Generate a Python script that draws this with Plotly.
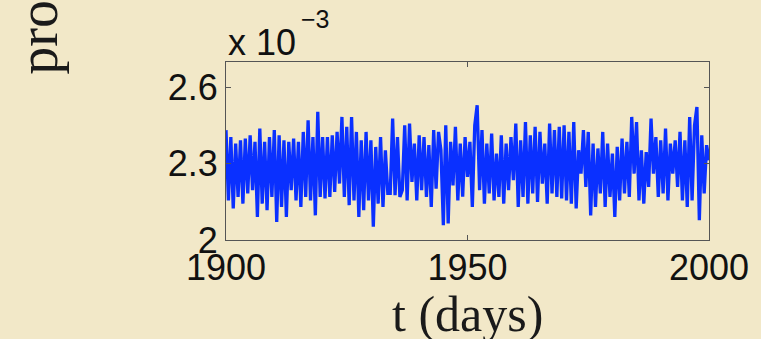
import plotly.graph_objects as go

# time axis (days) and the series value (in units of 1e-3)
t_start = 1900
t_step = 0.5
values = [
    2.432, 2.156, 2.405, 2.124, 2.379, 2.169, 2.392, 2.143, 2.399, 2.183,
    2.412, 2.196, 2.386, 2.091, 2.438, 2.143, 2.386, 2.117, 2.405, 2.169,
    2.432, 2.071, 2.412, 2.130, 2.392, 2.091, 2.386, 2.196, 2.399, 2.156,
    2.386, 2.130, 2.425, 2.169, 2.471, 2.156, 2.405, 2.097, 2.504, 2.169,
    2.405, 2.163, 2.405, 2.169, 2.412, 2.189, 2.425, 2.222, 2.484, 2.169,
    2.445, 2.137, 2.484, 2.156, 2.425, 2.091, 2.392, 2.117, 2.425, 2.156,
    2.392, 2.052, 2.366, 2.143, 2.405, 2.130, 2.353, 2.183, 2.183, 2.478,
    2.176, 2.405, 2.169, 2.196, 2.451, 2.156, 2.458, 2.228, 2.379, 2.156,
    2.412, 2.196, 2.405, 2.169, 2.373, 2.130, 2.432, 2.202, 2.425, 2.353,
    2.058, 2.451, 2.065, 2.386, 2.215, 2.445, 2.156, 2.379, 2.170, 2.405,
    2.248, 2.386, 2.130, 2.451, 2.530, 2.196, 2.432, 2.143, 2.379, 2.183,
    2.419, 2.156, 2.340, 2.169, 2.412, 2.143, 2.379, 2.196, 2.405, 2.235,
    2.458, 2.130, 2.392, 2.169, 2.464, 2.143, 2.412, 2.183, 2.445, 2.150,
    2.425, 2.222, 2.379, 2.143, 2.458, 2.183, 2.432, 2.169, 2.445, 2.163,
    2.451, 2.156, 2.425, 2.143, 2.464, 2.124, 2.353, 2.261, 2.432, 2.209,
    2.425, 2.097, 2.379, 2.130, 2.360, 2.183, 2.425, 2.130, 2.379, 2.169,
    2.340, 2.091, 2.366, 2.156, 2.399, 2.183, 2.386, 2.169, 2.484, 2.261,
    2.464, 2.156, 2.353, 2.143, 2.346, 2.209, 2.478, 2.261, 2.405, 2.169,
    2.392, 2.183, 2.438, 2.156, 2.379, 2.261, 2.392, 2.209, 2.425, 2.156,
    2.392, 2.130, 2.484, 2.156, 2.451, 2.523, 2.078, 2.412, 2.183, 2.373,
    2.314,
]
t = [t_start + t_step * i for i in range(len(values))]

x_ticks = [1900, 1950, 2000]
x_tick_labels = ["1900", "1950", "2000"]
y_ticks = [2.0, 2.3, 2.6]
y_tick_labels = ["2", "2.3", "2.6"]

x_title = "t (days)"
y_title = "probability"
exponent_base = "x 10"
exponent_power = "\u22123"

BG = "#F2E8C8"
tick_font = dict(family="Liberation Sans, Arial, sans-serif", size=36, color="#111111")
sup_font = dict(family="Liberation Sans, Arial, sans-serif", size=25, color="#111111")
serif_font = dict(family="Liberation Serif, Times New Roman, serif", size=50, color="#1a1a1a")
ylabel_font = dict(family="Liberation Serif, Times New Roman, serif", size=56, color="#1a1a1a")

fig = go.Figure()
fig.add_trace(go.Scatter(
    x=t, y=values, mode="lines",
    line=dict(color="#0A30FF", width=3.3),
    hoverinfo="skip", showlegend=False,
))

fig.update_layout(
    width=761, height=339,
    margin=dict(l=226, r=47, t=62, b=99),
    paper_bgcolor=BG, plot_bgcolor=BG,
    xaxis=dict(
        range=[1900, 2000], tickvals=x_ticks, ticktext=x_tick_labels,
        ticks="inside", ticklen=5, tickcolor="#555555", tickwidth=1,
        showline=True, linecolor="#555555", linewidth=1, mirror="ticks",
        showgrid=False, zeroline=False, tickfont=tick_font,
        ticklabelstandoff=-4,
    ),
    yaxis=dict(
        range=[2.0, 2.7], tickvals=y_ticks, ticktext=y_tick_labels,
        ticks="inside", ticklen=5, tickcolor="#555555", tickwidth=1,
        showline=True, linecolor="#555555", linewidth=1, mirror="ticks",
        showgrid=False, zeroline=False, tickfont=tick_font,
        ticklabelstandoff=0,
    ),
    annotations=[
        dict(text=exponent_base, xref="paper", yref="paper",
             x=0.0, y=1.0, xanchor="left", yanchor="bottom",
             showarrow=False, font=tick_font, yshift=-3),
        dict(text=exponent_power, xref="paper", yref="paper",
             x=0.152, y=1.152, xanchor="left", yanchor="bottom",
             showarrow=False, font=sup_font),
        dict(text=x_title, xref="paper", yref="paper",
             x=0.5, y=-0.247, xanchor="center", yanchor="top",
             showarrow=False, font=serif_font),
        dict(text=y_title, xref="paper", yref="paper",
             x=-0.39, y=0.915, xanchor="center", yanchor="bottom",
             textangle=-90, showarrow=False, font=ylabel_font),
    ],
)

fig.write_html("out.html", config={"displayModeBar": False},
               post_script="document.body.style.margin='0';")
